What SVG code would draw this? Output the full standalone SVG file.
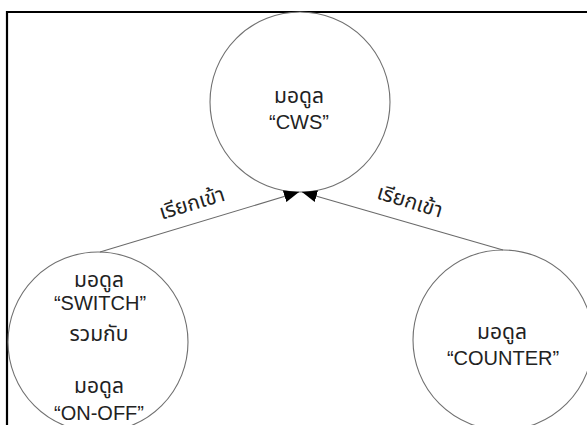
<svg xmlns="http://www.w3.org/2000/svg" width="587" height="425" viewBox="0 0 587 425">
<style>
.node circle{fill:#fff;stroke:#707070;stroke-width:1.1}
.t{font-family:"Liberation Sans","Noto Sans Thai","Noto Sans","DejaVu Sans",sans-serif;font-size:20px;fill:#222;text-anchor:middle}
.th{font-size:21px}
.edge{stroke:#6a6a6a;stroke-width:1.1;fill:none}
</style>
<defs>
<marker id="ah" markerUnits="userSpaceOnUse" viewBox="0 0 15 12" markerWidth="15" markerHeight="12" refX="15" refY="6" orient="auto">
<path d="M0,0 L15,6 L0,12 z" fill="#000"/>
</marker>
</defs>
<rect x="0" y="0" width="587" height="425" fill="#fff"/>
<path d="M7,425 V12 H587" fill="none" stroke="#000" stroke-width="2.2"/>
<g id="cws" class="node">
<circle cx="300" cy="102" r="90"/>
<text class="t th" x="299" y="103">มอดูล</text>
<text class="t" x="299" y="129">“CWS”</text>
</g>
<g id="switch" class="node">
<circle cx="98" cy="342" r="90"/>
<text class="t th" x="99" y="287">มอดูล</text>
<text class="t" x="100" y="310">“SWITCH”</text>
<text class="t th" x="99" y="341">รวมกับ</text>
<text class="t th" x="99" y="393">มอดูล</text>
<text class="t" x="99" y="420">“ON-OFF”</text>
</g>
<g id="counter" class="node">
<circle cx="503" cy="340" r="90"/>
<text class="t th" x="502" y="339">มอดูล</text>
<text class="t" x="503" y="365">“COUNTER”</text>
</g>
<g id="connectors">
<line class="edge" x1="100" y1="252" x2="299" y2="192" marker-end="url(#ah)"/>
<line class="edge" x1="503" y1="250" x2="302" y2="192" marker-end="url(#ah)"/>
<text class="t th" transform="translate(194,210) rotate(-17)">เรียกเข้า</text>
<text class="t th" transform="translate(408,208) rotate(17)">เรียกเข้า</text>
</g>
</svg>
